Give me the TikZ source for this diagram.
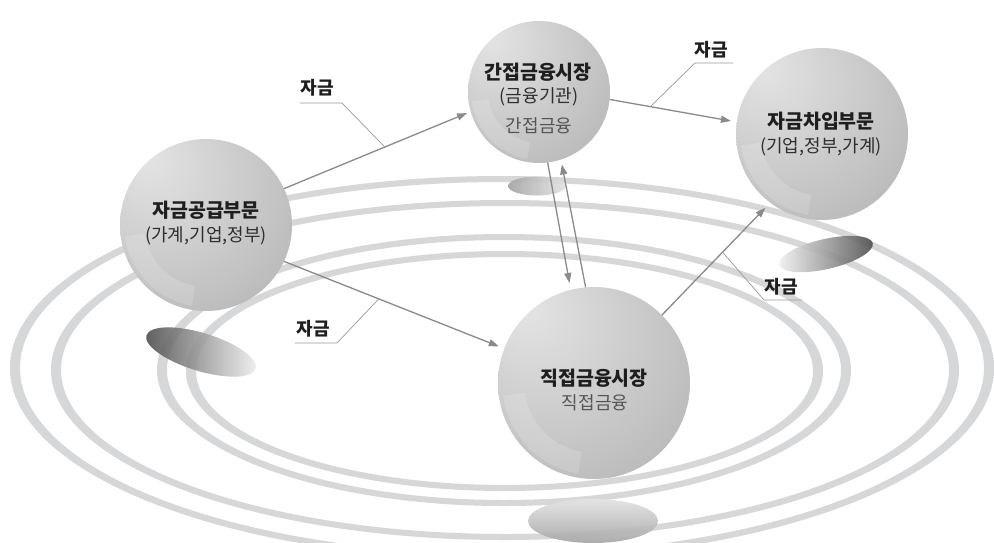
\documentclass[tikz,border=0pt]{standalone}
\usepackage{fontspec}
\setmainfont{Noto Sans CJK KR}
\usetikzlibrary{arrows.meta}
\definecolor{ringS}{HTML}{D6D7D9}
\definecolor{ringM}{HTML}{F3F3F3}
\definecolor{arrc}{HTML}{8A8A8A}
\definecolor{leadc}{HTML}{999999}
\definecolor{txt}{HTML}{1E1E1E}
\definecolor{txtp}{HTML}{2E2E2E}
\definecolor{subt}{HTML}{555555}
\definecolor{sph0}{HTML}{E4E4E4}
\definecolor{sph1}{HTML}{CFCFCF}
\definecolor{sph2}{HTML}{B8B8B8}
\definecolor{sph3}{HTML}{A0A0A0}
\definecolor{sph4}{HTML}{B4B4B4}
\pgfdeclareradialshading{sph}{\pgfpoint{-18bp}{20bp}}{color(0bp)=(sph0); color(20bp)=(sph1); color(42bp)=(sph2); color(62bp)=(sph3); color(77bp)=(sph4)}
\begin{document}
\begin{tikzpicture}[x=1pt,y=-1pt,
  ringband/.style={even odd rule, left color=ringS, middle color=ringM, right color=ringS},
  sphere/.style={circle, inner sep=0pt, outer sep=0pt, shade, shading=sph},
  gloss/.style={fill=white, opacity=0.16},
  flow/.style={draw=arrc, line width=1.3pt, -{Triangle[length=10pt,width=7pt]}},
  leader/.style={draw=leadc, line width=0.7pt},
  lab/.style={font=\bfseries\fontsize{18}{20}\selectfont, text=txt, inner sep=0pt},
  title/.style={font=\bfseries\fontsize{19.5}{22}\selectfont, text=txt, inner sep=0pt},
  sub/.style={font=\fontsize{18}{20}\selectfont, text=txtp, inner sep=0pt},
  subg/.style={font=\fontsize{18}{20}\selectfont, text=subt, inner sep=0pt},
]
\useasboundingbox (0,0) rectangle (994,542);
\fill[white] (0,0) rectangle (994,542);
% rings
\shade[ringband] (502,368) ellipse [x radius=492, y radius=192] (502,368) ellipse [x radius=482, y radius=186];
\shade[ringband] (505,370) ellipse [x radius=454, y radius=170] (505,370) ellipse [x radius=444, y radius=164];
\shade[ringband] (504,370) ellipse [x radius=347, y radius=136] (504,370) ellipse [x radius=337, y radius=130];
\shade[ringband] (504.5,371) ellipse [x radius=318.5, y radius=120] (504.5,371) ellipse [x radius=308.5, y radius=114];
% shadows
\begin{scope}[shift={(201,352)}, rotate=-17]
\shade[left color=black!72, right color=gray!12, opacity=0.88] (0,0) ellipse [x radius=57, y radius=19];
\end{scope}
\shade[left color=gray!72, right color=gray!22, opacity=0.9] (537,186) ellipse [x radius=29, y radius=9.5];
\begin{scope}[shift={(826,254)}, rotate=13]
\shade[left color=gray!10, right color=black!72, opacity=0.88] (0,0) ellipse [x radius=48, y radius=15];
\end{scope}
\shade[top color=gray!22, bottom color=gray!70, opacity=0.92] (593,521) ellipse [x radius=65, y radius=22];
% spheres
\node[sphere, minimum size=172pt] (sup) at (206,225) {};
\node[sphere, minimum size=142pt] (ind) at (539,92) {};
\node[sphere, minimum size=172pt] (bor) at (822,134) {};
\node[sphere, minimum size=192pt] (dir) at (594,383) {};
% glossy highlights
\begin{scope}[shift={(206,225)}]
\fill[gloss] (100:82) arc[start angle=100, end angle=172, radius=82] -- (172:62) arc[start angle=172, end angle=100, radius=62] -- cycle;
\end{scope}
\begin{scope}[shift={(539,92)}]
\fill[gloss] (100:68) arc[start angle=100, end angle=172, radius=68] -- (172:51) arc[start angle=172, end angle=100, radius=51] -- cycle;
\end{scope}
\begin{scope}[shift={(822,134)}]
\fill[gloss] (100:82) arc[start angle=100, end angle=172, radius=82] -- (172:62) arc[start angle=172, end angle=100, radius=62] -- cycle;
\end{scope}
\begin{scope}[shift={(594,383)}]
\fill[gloss] (100:92) arc[start angle=100, end angle=172, radius=92] -- (172:70) arc[start angle=172, end angle=100, radius=70] -- cycle;
\end{scope}
% flows
\draw[flow, shorten >=4pt] (sup.25) -- (ind.-164) coordinate[pos=0.54] (p1);
\draw[flow, shorten >=6pt] (sup.-25) -- (dir.159.4) coordinate[pos=0.43] (p4);
\draw[flow, shorten >=6pt] (ind.-6.3) -- (bor.172.6) coordinate[pos=0.32] (p2);
\draw[flow, shorten >=7pt] (dir.45.8) -- (bor.-127.3) coordinate[pos=0.56] (p3);
\draw[flow, shorten >=7pt] (ind.-83.3) -- (dir.104.6);
\draw[flow, shorten >=5pt] (dir.95.4) -- (ind.-72.5);
% labels with leaders
\node[lab] (l1) at (317,88) {자금};
\node[lab] (l2) at (711,50) {자금};
\node[lab] (l3) at (781,287) {자금};
\node[lab] (l4) at (313,329) {자금};
\coordinate (u1a) at (300,103); \coordinate (u1b) at (342,103);
\coordinate (u2a) at (695,63); \coordinate (u2b) at (733,63);
\coordinate (u3a) at (764,300); \coordinate (u3b) at (802,300);
\coordinate (u4a) at (295,343); \coordinate (u4b) at (337,343);
\draw[leader] (p1) -- (u1b) -- (u1a);
\draw[leader] (p2) -- (u2a) -- (u2b);
\draw[leader] (p3) -- (u3a) -- (u3b);
\draw[leader] (p4) -- (u4b) -- (u4a);
% sphere texts
\node[title] (supT) at (206,210) {자금공급부문};
\node[sub] (supS) at (206,236) {(가계,기업,정부)};
\node[title] (indT) at (538,72.5) {간접금융시장};
\node[sub] (indS) at (539,97) {(금융기관)};
\node[subg] (indG) at (539,126) {간접금융};
\node[title] (borT) at (821,121.5) {자금차입부문};
\node[sub] (borS) at (821,147) {(기업,정부,가계)};
\node[title] (dirT) at (594,378) {직접금융시장};
\node[subg] (dirG) at (595,403) {직접금융};
\end{tikzpicture}
\end{document}
